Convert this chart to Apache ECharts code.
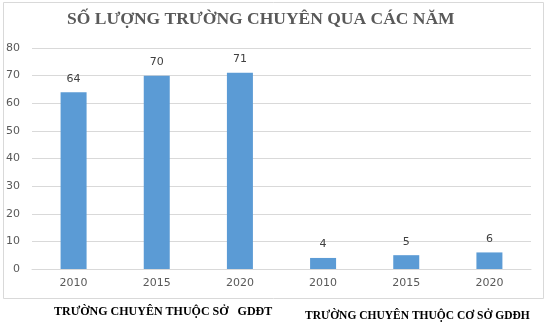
<!DOCTYPE html>
<html><head><meta charset="utf-8">
<script src="https://cdn.jsdelivr.net/npm/echarts@6/dist/echarts.min.js"></script>
<style>html,body{margin:0;padding:0;background:#fff}#c{width:552px;height:324px}</style>
</head><body><div id="c"></div>
<script>
const title = "SỐ LƯỢNG TRƯỜNG CHUYÊN QUA CÁC NĂM";
const categories = ["2010","2015","2020","2010","2015","2020"];
const values = [64,70,71,4,5,6];
const groupLabels = ["TRƯỜNG CHUYÊN THUỘC SỞ   GDĐT","TRƯỜNG CHUYÊN THUỘC CƠ SỞ GDĐH"];
const yTicks = {min:0,max:80,interval:10};

const chart = echarts.init(document.getElementById('c'));
chart.setOption({
  animation:false,
  backgroundColor:'#fff',
  title:{text:title,left:62,top:5,textStyle:{fontFamily:'Liberation Serif',fontWeight:'bold',fontSize:17.5,color:'#595959'}},
  grid:{left:32,right:21,top:48,bottom:55},
  xAxis:{type:'category',data:categories,
    axisLine:{lineStyle:{color:'#d9d9d9'}},axisTick:{show:false},
    axisLabel:{color:'#595959',fontSize:11,fontFamily:'DejaVu Sans',margin:9}},
  yAxis:{type:'value',min:yTicks.min,max:yTicks.max,interval:yTicks.interval,
    axisLine:{show:false},axisTick:{show:false},
    splitLine:{lineStyle:{color:'#d9d9d9'}},
    axisLabel:{color:'#595959',fontSize:11,fontFamily:'DejaVu Sans',margin:12}},
  series:[{type:'bar',data:values,barWidth:26,itemStyle:{color:'#5b9bd5'},
    label:{show:true,position:'top',color:'#404040',fontSize:11,fontFamily:'DejaVu Sans',distance:8}}],
  graphic:[
    {type:'rect',shape:{x:3.5,y:2.5,width:540,height:296},style:{fill:'none',stroke:'#d9d9d9',lineWidth:1},z:-1},
    {type:'text',left:54,top:306,style:{text:groupLabels[0],font:'bold 12px "Liberation Serif"',fill:'#000'}},
    {type:'text',left:305,top:310,style:{text:groupLabels[1],font:'bold 11.5px "Liberation Serif"',fill:'#000'}}
  ]
});
</script></body></html>
